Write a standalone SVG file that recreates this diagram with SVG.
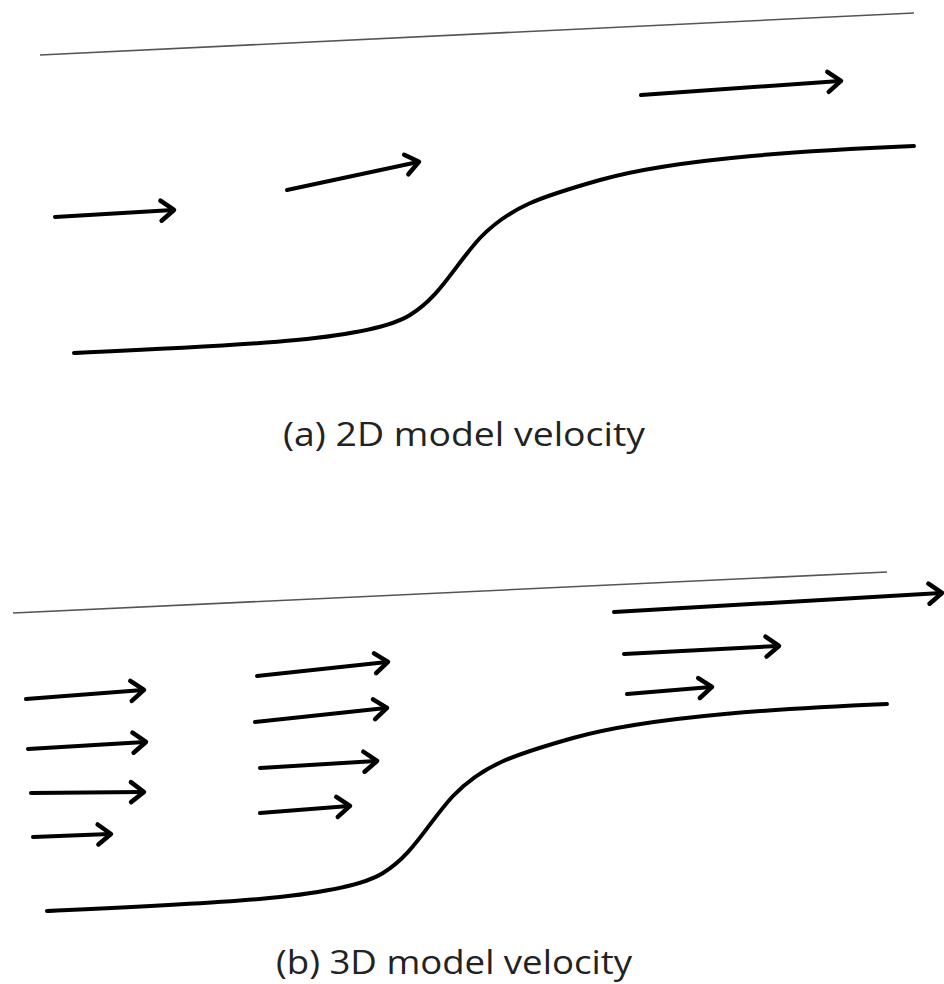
<svg xmlns="http://www.w3.org/2000/svg" width="944" height="984" viewBox="0 0 944 984">
<style>
.wall{fill:none;stroke:#555;stroke-width:1.6}
.bed{fill:none;stroke:#000;stroke-width:4;stroke-linecap:round}
.arr{fill:none;stroke:#000;stroke-width:4;stroke-linecap:round;marker-end:url(#ah)}
.lbl{font-family:"Open Sans","Liberation Sans",sans-serif;font-size:33px;fill:#222}
</style>
<defs>
<marker id="ah" markerUnits="userSpaceOnUse" markerWidth="30" markerHeight="30" refX="0" refY="0" orient="auto" overflow="visible">
<path d="M-12,-10 L1,0 L-12,10" fill="none" stroke="#000" stroke-width="4.5" stroke-linecap="round" stroke-linejoin="round"/>
</marker>
<path id="curve" d="M74,353 C250,345 370,340 410,315 C440,297 455,265 480,238 C510,207 540,197 600,180 C680,157.3 820,150 914,146"/>
</defs>
<g id="panel-a">
<line class="wall" x1="40" y1="55" x2="914" y2="13"/>
<use href="#curve" class="bed"/>
<text class="lbl" x="464" y="446" text-anchor="middle" textLength="362" lengthAdjust="spacingAndGlyphs">(a) 2D model velocity</text>
</g>
<g id="panel-b">
<line class="wall" x1="13" y1="613" x2="887" y2="572"/>
<use href="#curve" class="bed" transform="translate(-27,558)"/>
<text class="lbl" x="454" y="974" text-anchor="middle" textLength="356" lengthAdjust="spacingAndGlyphs">(b) 3D model velocity</text>
</g>
<g id="connectors">
<line class="arr" x1="55" y1="217" x2="173" y2="210"/>
<line class="arr" x1="287" y1="190" x2="418" y2="162"/>
<line class="arr" x1="641" y1="95" x2="840" y2="81"/>
<line class="arr" x1="26" y1="699" x2="143" y2="690"/>
<line class="arr" x1="28" y1="749" x2="145" y2="742"/>
<line class="arr" x1="31" y1="793" x2="143" y2="792"/>
<line class="arr" x1="33" y1="837" x2="110" y2="834"/>
<line class="arr" x1="257" y1="676" x2="387" y2="662"/>
<line class="arr" x1="255" y1="722" x2="386" y2="708"/>
<line class="arr" x1="260" y1="768" x2="376" y2="761"/>
<line class="arr" x1="260" y1="813" x2="349" y2="806"/>
<line class="arr" x1="614" y1="612" x2="941" y2="593"/>
<line class="arr" x1="624" y1="654" x2="778" y2="646"/>
<line class="arr" x1="627" y1="694" x2="711" y2="687"/>
</g>
</svg>
